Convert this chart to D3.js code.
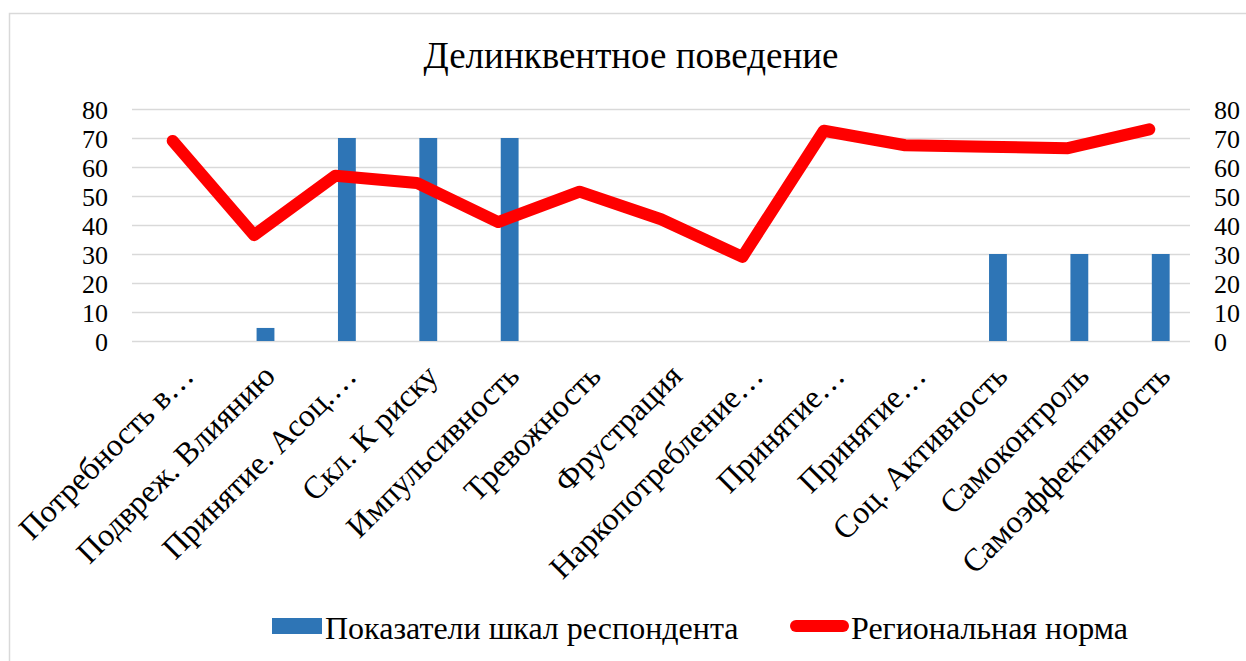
<!DOCTYPE html>
<html><head><meta charset="utf-8">
<script src="https://cdn.jsdelivr.net/npm/d3@7"></script>
<style>
html,body{margin:0;padding:0;background:#fff;}
svg text{font-family:"Liberation Serif","Times New Roman",serif;fill:#000;}
</style></head>
<body>
<svg id="chart" width="1246" height="661"></svg>
<script>
const title = "Делинквентное поведение";
const categories = ["Потребность в…","Подвреж. Влиянию","Принятие. Асоц.…","Скл. К риску","Импульсивность","Тревожность","Фрустрация","Наркопотребление…","Принятие…","Принятие…","Соц. Активность","Самоконтроль","Самоэффективность"];
const respondentValues = [0, 4.5, 70, 70, 70, 0, 0, 0, 0, 0, 30, 30, 30];
const regionalNorm = [69, 36.5, 57, 54.5, 41, 51.5, 42, 29, 72.5, 67.5, 67, 66.5, 73];
const yTicks = [0,10,20,30,40,50,60,70,80];
const seriesNames = ["Показатели шкал респондента","Региональная норма"];

const FONT = '"Liberation Serif","Times New Roman",serif';
const svg = d3.select("#chart");
const W = 1246, H = 661;
const plot = {left:132, right:1190, top:109, bottom:341};

svg.append("rect").attr("x",9.5).attr("y",13.5).attr("width",W+10).attr("height",H+10)
  .attr("fill","none").attr("stroke","#d9d9d9").attr("stroke-width",1.5);

const x = d3.scaleBand().domain(d3.range(categories.length)).range([plot.left, plot.right]).padding(0);
const y = d3.scaleLinear().domain([0,80]).range([plot.bottom, plot.top]);

const grid = svg.append("g").attr("transform",`translate(${plot.left},0)`)
  .call(d3.axisLeft(y).tickValues(yTicks).tickSize(-(plot.right-plot.left)).tickFormat(""));
grid.select(".domain").remove();
grid.selectAll("line").attr("stroke","#d9d9d9").attr("stroke-width",1.5);

const yl = svg.append("g").attr("transform",`translate(${plot.left-24},0)`)
  .call(d3.axisLeft(y).tickValues(yTicks).tickSize(0).tickPadding(0));
yl.attr("font-family",FONT);
yl.select(".domain").remove();
yl.selectAll("text").attr("font-size",26).attr("dy","0.36em");

const yr = svg.append("g").attr("transform",`translate(${plot.right+24},0)`)
  .call(d3.axisRight(y).tickValues(yTicks).tickSize(0).tickPadding(0));
yr.attr("font-family",FONT);
yr.select(".domain").remove();
yr.selectAll("text").attr("font-size",26).attr("dy","0.36em");

const bw = x.bandwidth();
const sub = d3.scaleBand().domain(["empty","resp"]).range([-bw*0.2, bw*0.25]).paddingInner(0.05);
svg.append("g").selectAll("rect").data(respondentValues).join("rect")
  .attr("x",(d,i)=>x(i)+bw/2+sub("resp"))
  .attr("width",sub.bandwidth())
  .attr("y",d=>y(d))
  .attr("height",d=>y(0)-y(d))
  .attr("fill","#2e75b6");

const line = d3.line().x((d,i)=>x(i)+bw/2).y(d=>y(d));
svg.append("path").datum(regionalNorm).attr("d",line)
  .attr("fill","none").attr("stroke","#ff0000").attr("stroke-width",12)
  .attr("stroke-linejoin","round").attr("stroke-linecap","round");

svg.append("g").attr("font-family",FONT).selectAll("text").data(categories).join("text")
  .attr("transform",(d,i)=>`translate(${x(i)+bw/2+7},${362}) rotate(-45)`)
  .attr("text-anchor","end").attr("dy","0.7em")
  .attr("font-size",32).text(d=>d);

svg.append("text").attr("x",631).attr("y",68).attr("text-anchor","middle")
  .attr("font-size",37).attr("font-family",FONT).text(title);

const lg = svg.append("g").attr("font-family",FONT);
lg.append("rect").attr("x",272).attr("y",618).attr("width",50).attr("height",16).attr("fill","#2e75b6");
lg.append("text").attr("x",325).attr("y",639).attr("font-size",32).text(seriesNames[0]);
lg.append("line").attr("x1",796).attr("x2",843).attr("y1",626).attr("y2",626)
  .attr("stroke","#ff0000").attr("stroke-width",12).attr("stroke-linecap","round");
lg.append("text").attr("x",851).attr("y",639).attr("font-size",32).text(seriesNames[1]);
</script>
</body></html>
